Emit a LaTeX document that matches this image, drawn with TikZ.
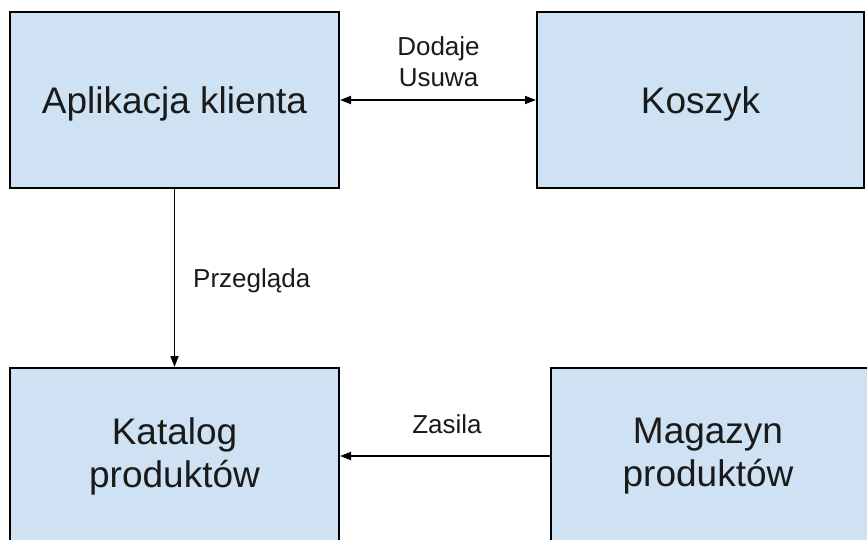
\documentclass[tikz,border=0pt]{standalone}
\usepackage{fontspec}
\setmainfont{Liberation Sans}
\usetikzlibrary{arrows.meta}
\definecolor{boxfill}{HTML}{CFE2F3}
\definecolor{ink}{HTML}{1A1A1A}
\begin{document}
\begin{tikzpicture}[x=1pt,y=-1pt,
  box/.style={draw=black, line width=2pt, fill=boxfill, minimum width=329pt, minimum height=176pt, inner sep=0pt, align=center, text=ink, font=\fontsize{37}{43}\selectfont},
  onebox/.style={box, text height=30pt, text depth=4pt},
  bigtext/.style={inner sep=0pt, align=center, text=ink, font=\fontsize{37}{43}\selectfont},
  lbl/.style={font=\fontsize{26}{31}\selectfont, inner sep=0pt, align=center, text=ink},
  conn/.style={line width=1.8pt}]
\useasboundingbox (0,0) rectangle (867,539);
\node[onebox] (app) at (174.5,100) {Aplikacja klienta};
\node[onebox, minimum width=327pt] (kosz) at (700.5,100) {Koszyk};
\node[box] (kat) at (174.5,456) {Katalog\\produktów};
\node[box, minimum width=340pt] (magbox) at (721,456) {};
\node[bigtext] (mag) at (708,456) {Magazyn\\produktów};
\draw[conn, {Triangle[length=11pt,width=8pt]}-{Triangle[length=11pt,width=8pt]}] (app.east) -- (kosz.west);
\draw[conn, -{Triangle[length=11pt,width=8pt]}] (app.south) -- (kat.north);
\draw[conn, -{Triangle[length=11pt,width=8pt]}] (magbox.west) -- (kat.east);
\node[lbl] (dod) at (438.5,62) {Dodaje\\Usuwa};
\node[lbl, anchor=base west] (prz) at (193,287) {Przegląda};
\node[lbl, anchor=base] (zas) at (447,433) {Zasila};
\end{tikzpicture}
\end{document}
